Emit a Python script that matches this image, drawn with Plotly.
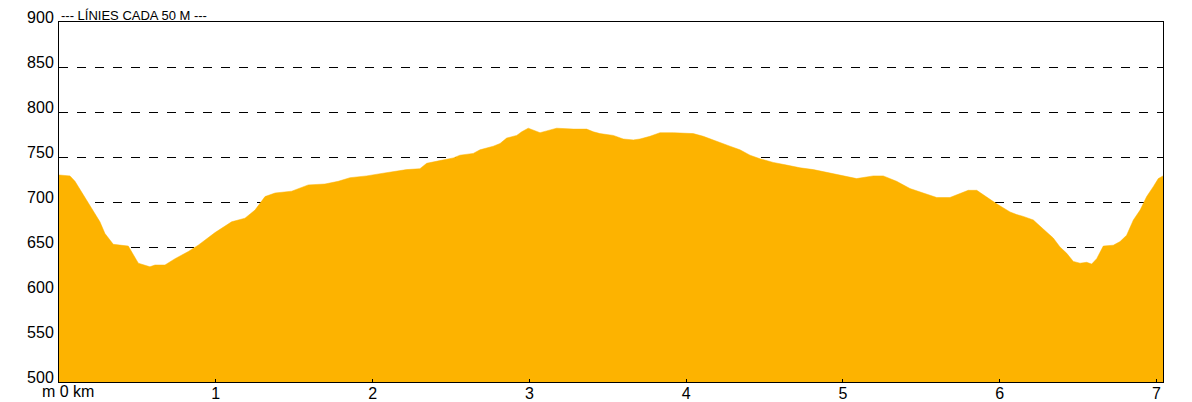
import plotly.graph_objects as go

dist_km = [0.0, 0.070, 0.102, 0.145, 0.187, 0.230, 0.261, 0.293, 0.346, 0.442,
           0.474, 0.506, 0.580, 0.612, 0.676, 0.740, 0.825, 0.888, 0.995, 1.101,
           1.186, 1.250, 1.314, 1.378, 1.484, 1.590, 1.696, 1.781, 1.856, 1.962,
           2.068, 2.132, 2.217, 2.302, 2.345, 2.430, 2.515, 2.557, 2.642, 2.685,
           2.770, 2.813, 2.855, 2.919, 2.951, 2.993, 3.025, 3.068, 3.110, 3.174,
           3.280, 3.365, 3.408, 3.450, 3.535, 3.599, 3.663, 3.705, 3.769, 3.833,
           3.918, 4.045, 4.109, 4.152, 4.215, 4.279, 4.343, 4.407, 4.471, 4.555,
           4.641, 4.726, 4.811, 4.896, 4.981, 5.087, 5.193, 5.257, 5.342, 5.427,
           5.512, 5.598, 5.682, 5.725, 5.799, 5.853, 5.917, 5.980, 6.065, 6.108,
           6.150, 6.214, 6.277, 6.341, 6.384, 6.427, 6.469, 6.512, 6.554, 6.586,
           6.618, 6.660, 6.724, 6.767, 6.809, 6.852, 6.895, 6.937, 6.979, 7.011,
           7.041]
elev_m = [730, 729, 723, 711, 698, 687, 678, 665, 653, 651,
          641, 632, 628, 630, 630, 637, 645, 652, 666, 678,
          682, 691, 706, 710, 712, 719, 720, 723, 727, 729,
          732, 734, 736, 737, 743, 746, 749, 752, 754, 758,
          762, 765, 771, 774, 778, 782, 780, 777, 779, 782,
          781, 781, 778, 776, 774, 770, 769, 770, 773, 777,
          777, 776, 773, 770, 766, 762, 758, 752, 748, 744,
          741, 738, 736, 733, 730, 726, 729, 729, 723, 715,
          710, 705, 705, 708, 713, 713, 705, 698, 689, 686,
          684, 680, 670, 660, 650, 643, 634, 632, 633, 631,
          637, 651, 652, 656, 663, 680, 691, 706, 717, 726,
          729]

y_ticks = [500, 550, 600, 650, 700, 750, 800, 850, 900]
x_ticks = [1, 2, 3, 4, 5, 6, 7]
x_tick_labels = ["1", "2", "3", "4", "5", "6", "7"]
title_text = "--- LÍNIES CADA 50 M ---"
origin_label = "m 0 km"

FONT = "Arial, 'Liberation Sans', sans-serif"

fig = go.Figure()
fig.add_trace(go.Scatter(
    x=dist_km, y=elev_m, mode="lines",
    line=dict(color="#FDB300", width=0.5),
    fill="tozeroy", fillcolor="#FDB300",
    hoverinfo="x+y", showlegend=False,
))

fig.update_layout(
    width=1184, height=394,
    margin=dict(l=51, r=29, t=14, b=20, autoexpand=False),
    paper_bgcolor="white", plot_bgcolor="white",
    font=dict(family=FONT, size=16, color="black"),
    xaxis=dict(
        range=[0, 7.041], tickvals=x_ticks, ticktext=x_tick_labels,
        showgrid=False, zeroline=False, automargin=False,
        showline=True, linecolor="black", linewidth=1, mirror=True,
        ticks="inside", ticklen=3, tickcolor="black",
        tickfont=dict(size=16), ticklabelstandoff=-3,
    ),
    yaxis=dict(
        range=[500, 900], tickvals=y_ticks,
        showgrid=True, gridcolor="black", griddash="dash", gridwidth=1,
        zeroline=False, automargin=False,
        showline=True, linecolor="black", linewidth=1, mirror=True,
        ticks="", tickfont=dict(size=16), ticklabelshift=-5, ticklabelstandoff=1,
    ),
)

fig.add_annotation(
    text=title_text, xref="paper", yref="paper",
    x=0.0, y=1.0, xanchor="left", yanchor="bottom",
    showarrow=False, font=dict(size=13, color="black"), yshift=-3,
)
fig.add_annotation(
    text=origin_label, xref="paper", yref="paper",
    x=-0.0175, y=0, xanchor="left", yanchor="top",
    showarrow=False, font=dict(size=16, color="black"), yshift=1,
)

fig.write_html("out.html")
